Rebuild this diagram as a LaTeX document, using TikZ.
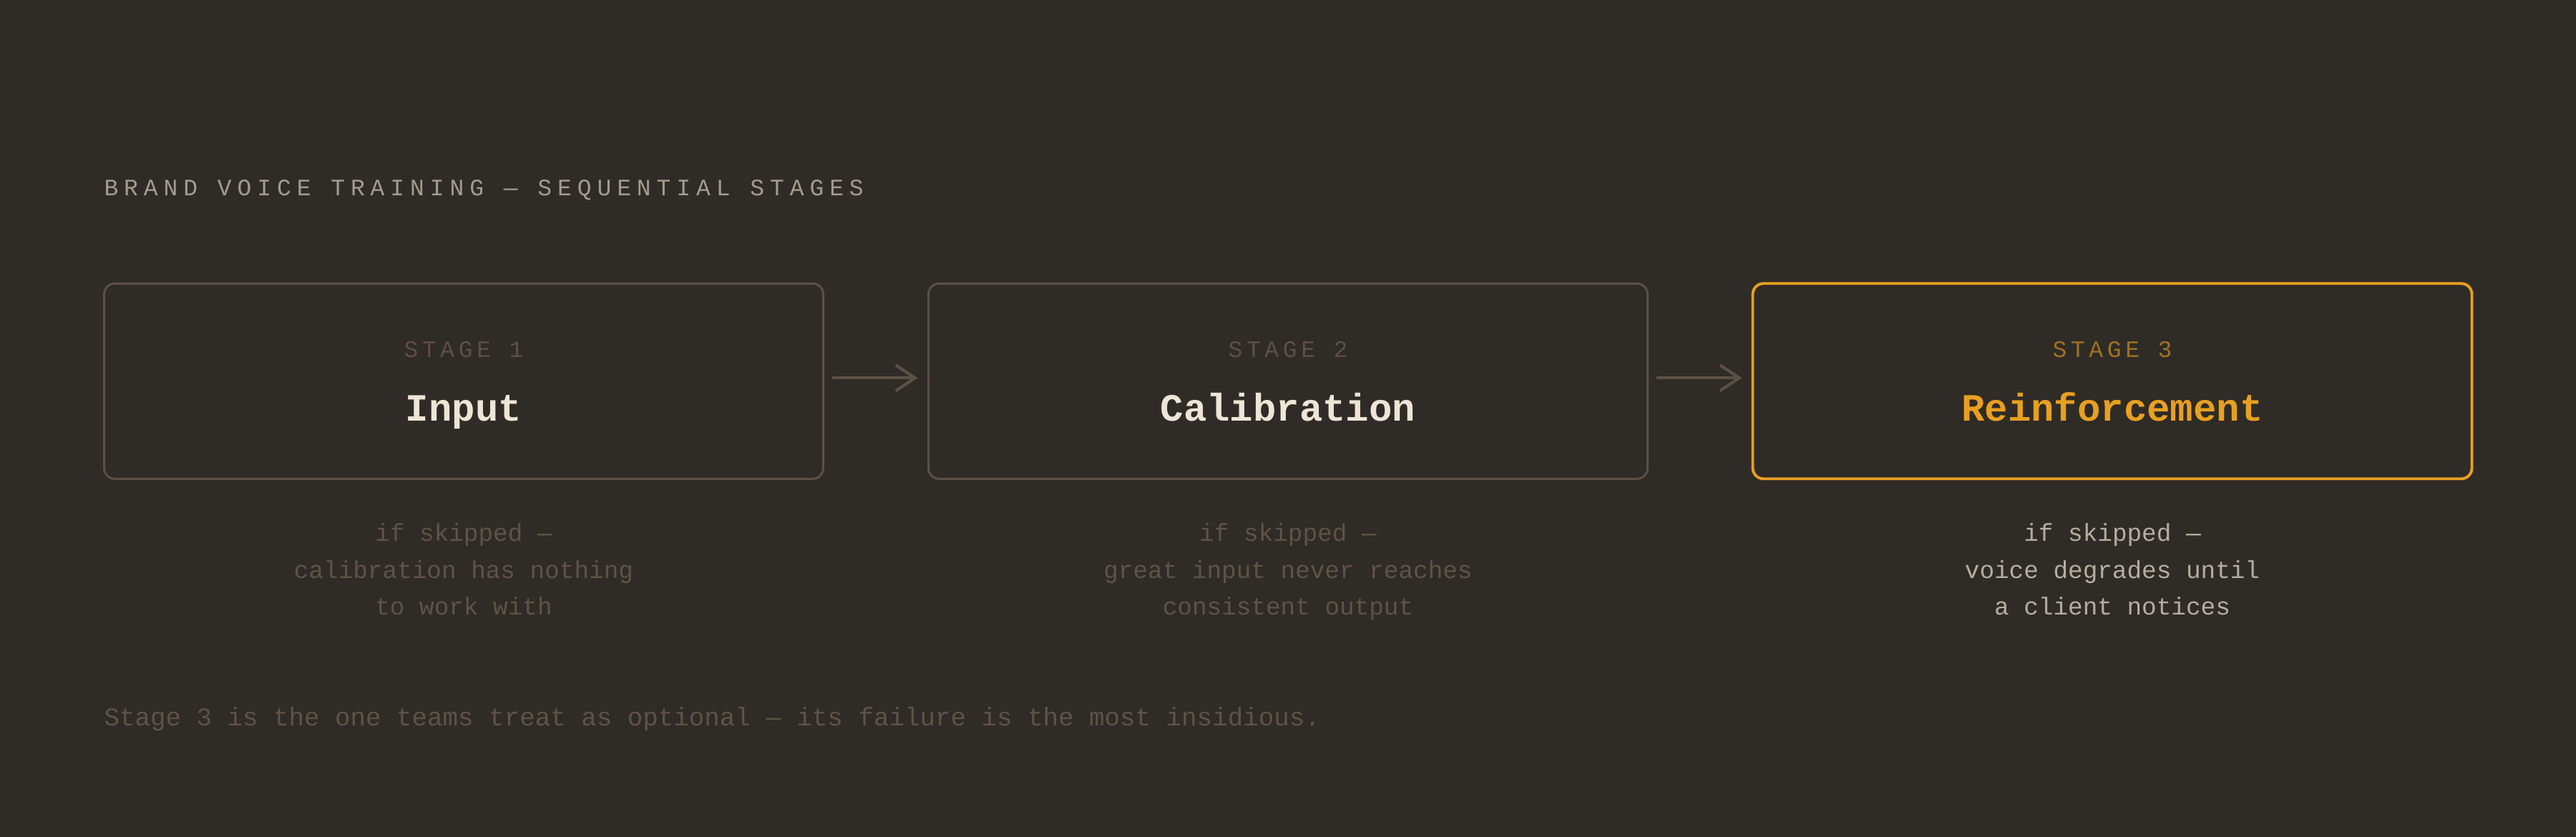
\documentclass[tikz,border=0pt]{standalone}
\usepackage{fontspec}
\setmainfont{Liberation Mono}
\newfontfamily\titlef[LetterSpace=24]{Liberation Mono}
\newfontfamily\stagef[LetterSpace=17]{Liberation Mono}
\usetikzlibrary{arrows.meta}
\definecolor{bgc}{HTML}{2F2B26}
\definecolor{edgec}{HTML}{5C5044}
\definecolor{titlec}{HTML}{A39B8E}
\definecolor{creamc}{HTML}{EDE5D5}
\definecolor{orangec}{HTML}{E8A020}
\definecolor{orangedim}{HTML}{A07222}
\definecolor{dimc}{HTML}{5E5346}
\definecolor{lightc}{HTML}{B5AD9F}
\tikzset{
  stagebox/.style={draw=edgec, line width=1pt, rounded corners=5pt, minimum width=335pt, minimum height=91pt, inner sep=0pt, outer sep=0pt},
  hotbox/.style={stagebox, draw=orangec, line width=1.3pt},
  stagelbl/.style={anchor=base, inner sep=0pt, text=edgec, font=\stagef\fontsize{11}{13}\selectfont},
  stagename/.style={anchor=base, inner sep=0pt, text=creamc, font=\fontsize{18}{20}\selectfont\bfseries},
  desc/.style={anchor=base, inner sep=0pt, text=dimc, font=\fontsize{11.45}{14}\selectfont},
  flow/.style={draw=edgec, line width=1.4pt, -{Straight Barb[length=9pt,width=12pt,line width=1.4pt]}},
}
\begin{document}
\begin{tikzpicture}[x=1pt,y=-1pt]
\fill[bgc] (0,0) rectangle (1200,390);
\useasboundingbox (0,0) rectangle (1200,390);
\node[anchor=base west, inner sep=0pt, text=titlec, font=\titlef\fontsize{11}{13}\selectfont] (title) at (48.3,91.3) {BRAND VOICE TRAINING — SEQUENTIAL STAGES};
\node[stagebox] (b1) at (216,177.6) {};
\node[stagebox] (b2) at (600,177.6) {};
\node[hotbox] (b3) at (984,177.6) {};
\node[stagelbl] (s1) at (216,166.4) {STAGE 1};
\node[stagelbl] (s2) at (600,166.4) {STAGE 2};
\node[stagelbl, text=orangedim] (s3) at (984,166.4) {STAGE 3};
\node[stagename] (n1) at (216,196.1) {Input};
\node[stagename] (n2) at (600,196.1) {Calibration};
\node[stagename, text=orangec] (n3) at (984,196.1) {Reinforcement};
\draw[flow] ([xshift=4pt,yshift=1.5pt]b1.east) -- ([xshift=-5pt,yshift=1.5pt]b2.west);
\draw[flow] ([xshift=4pt,yshift=1.5pt]b2.east) -- ([xshift=-5pt,yshift=1.5pt]b3.west);
\node[desc] (d1a) at (216,252.2) {if skipped —};
\node[desc] (d1b) at (216,269.4) {calibration has nothing};
\node[desc] (d1c) at (216,286.4) {to work with};
\node[desc] (d2a) at (600,252.2) {if skipped —};
\node[desc] (d2b) at (600,269.4) {great input never reaches};
\node[desc] (d2c) at (600,286.4) {consistent output};
\node[desc, text=lightc] (d3a) at (984,252.2) {if skipped —};
\node[desc, text=lightc] (d3b) at (984,269.4) {voice degrades until};
\node[desc, text=lightc] (d3c) at (984,286.4) {a client notices};
\node[anchor=base west, inner sep=0pt, text=dimc, font=\fontsize{11.95}{14}\selectfont] (foot) at (48.3,338.3) {Stage 3 is the one teams treat as optional — its failure is the most insidious.};
\end{tikzpicture}
\end{document}
